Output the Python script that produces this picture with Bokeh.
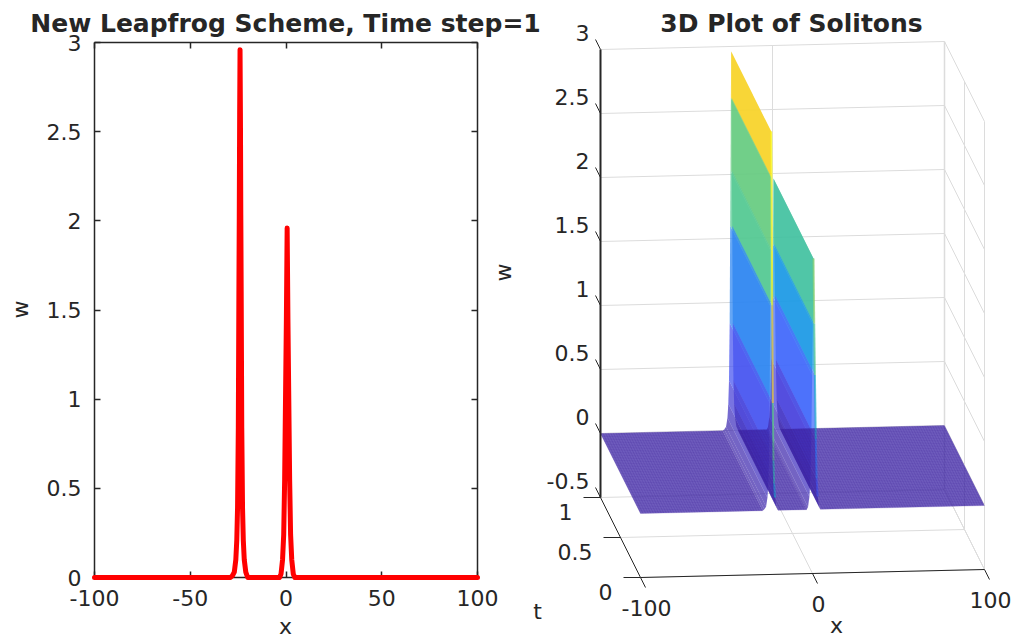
from bokeh.plotting import figure
from bokeh.models import Range1d, LinearAxis, FixedTicker
from bokeh.embed import file_html
from bokeh.resources import INLINE
from bokeh.core.properties import value

# ---- data
x_samples = [-100, -29, -28, -27, -26.2, -25.7, -25.3, -24.9, -24.6, -24.4, -24.2,
             -24.0,
             -23.8, -23.6, -23.4, -23.1, -22.7, -22.3, -21.8, -21, -20,
             -3.4, -2.6, -1.8, -1.2, -0.7, -0.2, 0.2,
             0.6,
             1.0, 1.4, 1.9, 2.4, 3.0, 3.8, 4.6, 100]
w_samples = [0, 0.0, 0.01, 0.03, 0.10, 0.21, 0.39, 0.84, 1.60, 2.03, 2.60,
             2.96,
             2.60, 2.03, 1.60, 0.84, 0.39, 0.21, 0.10, 0.03, 0.0,
             0.0, 0.02, 0.10, 0.24, 0.55, 1.05, 1.45,
             1.96,
             1.45, 1.05, 0.55, 0.24, 0.10, 0.02, 0.0, 0]

x_ticks = [-100, -50, 0, 50, 100]
x_tick_labels = ["-100", "-50", "0", "50", "100"]
w_ticks = [0, 0.5, 1, 1.5, 2, 2.5, 3]
w_tick_labels = ["0", "0.5", "1", "1.5", "2", "2.5", "3"]

x3_ticks = [-100, 0, 100]
x3_tick_labels = ["-100", "0", "100"]
t3_ticks = [0, 0.5, 1]
t3_tick_labels = ["0", "0.5", "1"]
w3_ticks = [-0.5, 0, 0.5, 1, 1.5, 2, 2.5, 3]
w3_tick_labels = ["-0.5", "0", "0.5", "1", "1.5", "2", "2.5", "3"]

title_left = "New Leapfrog Scheme, Time step=1"
title_right = "3D Plot of Solitons"

FONT = "DejaVu Sans"
DARK = "#262626"
GRID = "#dcdcdc"
TICK_SIZE = "22px"

# ---- page-pixel canvas, with the left panel on its own scales
PW, PH = 1017, 639
XA, XB, YA, YB = 0, 1017, 639, 0
p = figure(width=PW, height=PH, x_range=Range1d(XA, XB), y_range=Range1d(YA, YB),
           output_backend="svg", toolbar_location=None, min_border=0,
           x_axis_type=None, y_axis_type=None, outline_line_color=None)
p.grid.visible = False

LX0, LX1, LY0, LY1 = 94, 477, 577, 42
sx = 200 / (LX1 - LX0)
sy = 3 / (LY0 - LY1)
p.extra_x_ranges["lx"] = Range1d(-100 - (LX0 - XA) * sx, 100 + (XB - LX1) * sx)
p.extra_y_ranges["ly"] = Range1d(-(YA - LY0) * sy, 3 + (LY1 - YB) * sy)


def style_axis(ax, labels=True):
    ax.level = "underlay"
    ax.axis_line_color = DARK
    ax.axis_line_width = 1.5
    ax.major_tick_line_color = DARK
    ax.major_tick_line_width = 1.5
    ax.major_tick_in = 6
    ax.major_tick_out = 0
    ax.minor_tick_line_color = None
    ax.major_label_text_font = FONT
    ax.major_label_text_font_size = TICK_SIZE
    ax.major_label_text_color = DARK
    if not labels:
        ax.major_label_text_color = None


for loc, side, lab in ((0, "below", True), (3, "above", False)):
    ax = LinearAxis(x_range_name="lx", y_range_name="ly", fixed_location=loc, bounds=(-100, 100),
                    ticker=FixedTicker(ticks=x_ticks),
                    major_label_overrides=dict(zip(x_ticks, x_tick_labels)))
    style_axis(ax, lab)
    ax.major_label_standoff = 12
    p.add_layout(ax, side)
for loc, side, lab in ((-100, "left", True), (100, "right", False)):
    ax = LinearAxis(x_range_name="lx", y_range_name="ly", fixed_location=loc, bounds=(0, 3),
                    ticker=FixedTicker(ticks=w_ticks),
                    major_label_overrides=dict(zip(w_ticks, w_tick_labels)))
    style_axis(ax, lab)
    ax.major_label_standoff = 13
    p.add_layout(ax, side)

p.line(x_samples, w_samples, x_range_name="lx", y_range_name="ly", line_color="#ff0000",
       line_width=5, line_join="round", line_cap="round")


def txt(x, y, s, size=TICK_SIZE, align="center", base="middle", angle=0, style="normal"):
    p.text([x], [y], text=[s], text_font=value(FONT), text_font_size=value(size),
           text_color=DARK, text_align=align, text_baseline=base, angle=angle,
           text_font_style=style)


txt(285, 23, title_left, size="25px", style="bold")
txt(791, 23, title_right, size="25px", style="bold")
txt(285, 638, "x", size="22px", base="bottom")
txt(20, 309, "w", size="22px", angle=1.5708)


# ---- right panel: fixed view of (x, t, w)
def proj(x, t, w):
    return (600 + 344 * (x + 100) / 200 + 40 * (1 - t),
            497 - 8 * (x + 100) / 200 + 80 * (1 - t) - 128 * (w + 0.5))


stops = [(0, (.2422, .1504, .66)), (.1, (.28, .28, .92)), (.2, (.24, .43, 1)),
         (.35, (.1, .6, .9)), (.43, (.12, .68, .78)), (.5, (.3, .78, .58)), (.68, (.4, .8, .5)),
         (.87, (.98, .83, .15)), (1, (.98, .98, .08))]


def cmap(w):
    f = max(0, min(1, w / 3))
    for (a, ca), (b, cb) in zip(stops, stops[1:]):
        if f <= b:
            m = (f - a) / (b - a)
            return "#%02x%02x%02x" % tuple(int(255 * (u + (v - u) * m)) for u, v in zip(ca, cb))
    return "#f9fa14"


def seg(a, b, color=GRID, width=1.0, alpha=1.0):
    (x0, y0), (x1, y1) = a, b
    p.line([x0, x1], [y0, y1], line_color=color, line_width=width, line_alpha=alpha)


# walls and floor grid
for w in w3_ticks:
    seg(proj(-100, 1, w), proj(100, 1, w))
    seg(proj(100, 1, w), proj(100, 0, w))
for x in x3_ticks[1:]:
    seg(proj(x, 1, -0.5), proj(x, 1, 3), width=1.5 if x == 100 else 1.0)
    seg(proj(x, 1, -0.5), proj(x, 0, -0.5))
for t in t3_ticks[:-1]:
    seg(proj(100, t, -0.5), proj(100, t, 3))
    seg(proj(-100, t, -0.5), proj(100, t, -0.5))

# surface facets
fx, fy, fc = [], [], []
for i in range(len(x_samples) - 1):
    xa, xb = x_samples[i], x_samples[i + 1]
    wa, wb = w_samples[i], w_samples[i + 1]
    corners = [proj(xa, 1, wa), proj(xb, 1, wb), proj(xb, 0, wb), proj(xa, 0, wa)]
    fx.append([c[0] for c in corners])
    fy.append([c[1] for c in corners])
    fc.append(cmap(min(wa, wb)))
p.patches(fx, fy, fill_color=fc, fill_alpha=0.72, line_color=None)

# facet edges seen end-on at the front of the falling flanks
for i in range(len(x_samples) - 1):
    wa, wb = w_samples[i], w_samples[i + 1]
    if wb < wa and wa > 0.2:
        a = proj(x_samples[i], 0, wa)
        b = proj(x_samples[i + 1], 0, wb)
        boost = 1.0 if x_samples[i] < -10 else 0.2
        seg(a, b, color=cmap(min(3, wa + boost)), width=2, alpha=0.7)

# mesh on the flat parts of the surface
mx, my = [], []
flats = [(-100, -29), (-20, -3.4), (4.6, 100)]
for lo, hi in flats:
    x = lo
    while x <= hi:
        a, b = proj(x, 1, 0), proj(x, 0, 0)
        mx.append([a[0], b[0]])
        my.append([a[1], b[1]])
        x += 1.5
    for k in range(0, 51):
        t = k / 50
        a, b = proj(lo, t, 0), proj(hi, t, 0)
        mx.append([a[0], b[0]])
        my.append([a[1], b[1]])
p.multi_line(mx, my, line_color="#3c1e96", line_width=0.5, line_alpha=0.4)

# box axes and tick marks
seg(proj(-100, 1, -0.5), proj(-100, 1, 3), color=DARK, width=2)
seg(proj(-100, 1, -0.5), proj(-100, 0, -0.5), color=DARK, width=1)
seg(proj(-100, 0, -0.5), proj(100, 0, -0.5), color=DARK, width=1)
for w, s in zip(w3_ticks, w3_tick_labels):
    a = proj(-100, 1, w)
    seg(a, (a[0] - 5, a[1] - 10), color=DARK)
    txt(a[0] - 11, a[1] - 17, s, align="right")
for t, s in zip(t3_ticks, t3_tick_labels):
    a = proj(-100, t, -0.5)
    seg(a, (a[0] - 17, a[1]), color=DARK)
    txt(a[0] - 28, a[1] + 14, s, align="right")
for x, s in zip(x3_ticks, x3_tick_labels):
    a = proj(x, 0, -0.5)
    seg(a, (a[0] + 5, a[1] + 10), color=DARK)
    txt(a[0] + 6, a[1] + 30, s)
txt(503, 272, "w", size="22px", angle=1.5708)
txt(537, 611, "t", size="22px")
txt(836, 637, "x", size="22px", base="bottom")

open("out.html", "w").write(file_html(p, INLINE))
